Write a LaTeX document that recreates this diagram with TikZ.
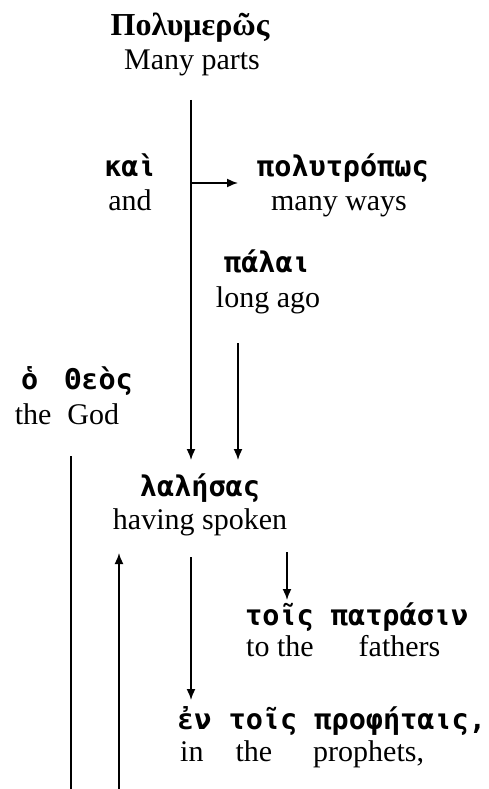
\documentclass[tikz,border=0pt]{standalone}
\usepackage{fontspec}
\setmainfont{Liberation Serif}
\newfontfamily\grk[Script=Greek]{DejaVu Sans Mono}
\newfontfamily\grkserif[Script=Greek]{Liberation Serif}
\usetikzlibrary{arrows.meta}
\tikzset{
  en/.style={font=\fontsize{30}{32}\selectfont, inner sep=0pt, anchor=base},
  gr/.style={font=\grk\bfseries\fontsize{28.5}{32}\selectfont, inner sep=0pt, anchor=base},
  grtitle/.style={font=\grkserif\bfseries\fontsize{32}{34}\selectfont, inner sep=0pt, anchor=base},
  ln/.style={line width=1.6pt},
  arr/.style={ln, -{Latex[length=11pt,width=9pt]}},
}
\begin{document}
\begin{tikzpicture}[x=1pt,y=-1pt]
\fill[white] (0,0) rectangle (488,789);
\useasboundingbox (0,0) rectangle (488,789);
% texts
\node[grtitle] (t1) at (190,36) {Πολυμερῶς};
\node[en] (t1e) at (192,70) {Many parts};
\node[gr] (k) at (130,176) {καὶ};
\node[en] (ke) at (130,210) {and};
\node[gr, anchor=base west] (p) at (257,176) {πολυτρόπως};
\node[en] (pe) at (339,210) {many ways};
\node[gr] (pa) at (267,272) {πάλαι};
\node[en] (pae) at (268,307) {long ago};
\node[gr] (th) at (77,389) {ὁ\hspace{26pt}Θεὸς};
\node[en] (the) at (67,424) {the\hspace{16pt}God};
\node[gr] (la) at (200,496) {λαλήσας};
\node[en] (lae) at (200,529) {having spoken};
\node[gr, anchor=base west] (tp) at (245,625) {τοῖς πατράσιν};
\node[en, anchor=base west] (tpe) at (246,656) {to the\hspace{45pt}fathers};
\node[gr, anchor=base west] (ep) at (177,729) {ἐν τοῖς προφήταις,};
\node[en, anchor=base west] (epe) at (180,761) {in\hspace{32pt}the\hspace{41pt}prophets,};
% connectors
\coordinate (a0) at (191,100); \coordinate (a1) at (191,460);
\draw[arr] (a0) -- (a1);
\coordinate (b0) at (191,183); \coordinate (b1) at (238,183);
\draw[arr] (b0) -- (b1);
\coordinate (c0) at (238,343); \coordinate (c1) at (238,460);
\draw[arr] (c0) -- (c1);
\coordinate (g0) at (71,456); \coordinate (g1) at (71,789);
\draw[ln] (g0) -- (g1);
\coordinate (u0) at (119,789); \coordinate (u1) at (119,553);
\draw[arr] (u0) -- (u1);
\coordinate (d0) at (191,557); \coordinate (d1) at (191,700);
\draw[arr] (d0) -- (d1);
\coordinate (s0) at (287,552); \coordinate (s1) at (287,600);
\draw[arr] (s0) -- (s1);
\end{tikzpicture}
\end{document}
